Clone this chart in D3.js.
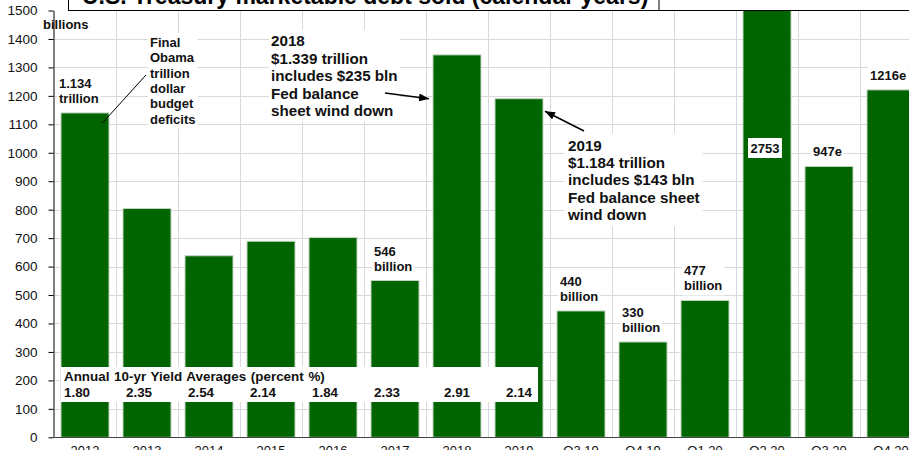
<!DOCTYPE html>
<html>
<head>
<meta charset="utf-8">
<script src="https://cdn.jsdelivr.net/npm/d3@7"></script>
<style>
  body { margin: 0; background: #fff; }
  svg { display: block; font-family: Arial, "Liberation Sans", sans-serif; }
  .bold { font-weight: bold; }
</style>
</head>
<body>
<div id="chart"></div>
<script>
// data (billions of dollars)
var categories = ["2012", "2013", "2014", "2015", "2016", "2017", "2018", "2019",
  "Q3 19", "Q4 19", "Q1 20", "Q2 20", "Q3 20", "Q4 20"];
var debtSold = [1140, 804, 638, 689, 702, 551, 1344, 1190, 444, 335, 481, 2753, 952, 1221];
var yieldYears = ["2012", "2013", "2014", "2015", "2016", "2017", "2018", "2019"];
var yieldAverages = ["1.80", "2.35", "2.54", "2.14", "1.84", "2.33", "2.91", "2.14"];
var yTicks = [0, 100, 200, 300, 400, 500, 600, 700, 800, 900, 1000, 1100, 1200, 1300, 1400, 1500];

var titleText = "U.S. Treasury marketable debt sold (calendar years)";
var yieldTitle = "Annual 10-yr Yield Averages (percent %)";
var obamaNote = ["Final", "Obama", "trillion", "dollar", "budget", "deficits"];
var note2018 = ["2018", "$1.339 trillion", "includes $235 bln", "Fed balance", "sheet wind down"];
var note2019 = ["2019", "$1.184 trillion", "includes $143 bln", "Fed balance sheet", "wind down"];
var barLabels = [
  { cat: "2012", lines: ["1.134", "trillion"] },
  { cat: "2017", lines: ["546", "billion"] },
  { cat: "Q3 19", lines: ["440", "billion"] },
  { cat: "Q4 19", lines: ["330", "billion"] },
  { cat: "Q1 20", lines: ["477", "billion"] },
  { cat: "Q3 20", lines: ["947e"] },
  { cat: "Q4 20", lines: ["1216e"] }
];

var width = 909, height = 450;
var green = "#006400", grid = "#d9d9d9";

var svg = d3.select("#chart").append("svg")
  .attr("width", width)
  .attr("height", height);

var x = d3.scaleBand()
  .domain(categories)
  .range([54, 54 + 62 * categories.length])
  .paddingInner(14 / 62)
  .paddingOuter(7 / 62);

var y = d3.scaleLinear()
  .domain([0, 1500])
  .range([437.3, 10.5]);

var gap = (x.step() - x.bandwidth()) / 2;

// gridlines
svg.append("g").selectAll("line")
  .data(yTicks.filter(function (d) { return d > 0 && d < 1500; }))
  .enter().append("line")
  .attr("x1", 54).attr("x2", width)
  .attr("y1", function (d) { return Math.round(y(d)) + 0.5; })
  .attr("y2", function (d) { return Math.round(y(d)) + 0.5; })
  .style("stroke", grid);

svg.append("g").selectAll("line")
  .data(categories.slice(1))
  .enter().append("line")
  .attr("x1", function (d) { return Math.round(x(d) - gap) + 0.5; })
  .attr("x2", function (d) { return Math.round(x(d) - gap) + 0.5; })
  .attr("y1", y(1500)).attr("y2", y(0))
  .style("stroke", grid);

// bars (clipped at the top of the axis)
svg.append("g").selectAll("rect")
  .data(categories)
  .enter().append("rect")
  .attr("x", function (d) { return x(d); })
  .attr("y", function (d, i) { return y(Math.min(debtSold[i], 1500)); })
  .attr("width", x.bandwidth())
  .attr("height", function (d, i) { return y(0) - y(Math.min(debtSold[i], 1500)); })
  .style("fill", green)
  .style("stroke", "#c4d6c4")
  .style("stroke-width", 1);

// y axis
var yAxis = svg.append("g")
  .attr("transform", "translate(53.5,0)")
  .call(d3.axisLeft(y).tickValues(yTicks).tickFormat(d3.format("d"))
    .tickSize(5).tickSizeOuter(0).tickPadding(11));
yAxis.select(".domain").style("stroke", "#000");
yAxis.selectAll(".tick line").style("stroke", "#000");
yAxis.selectAll("text")
  .style("font-size", "13.5px")
  .style("fill", "#111")
  .attr("font-family", null);

// x axis
svg.append("line")
  .attr("x1", 54).attr("x2", width)
  .attr("y1", 437.5).attr("y2", 437.5)
  .style("stroke", "#444");

svg.append("g").selectAll("text")
  .data(categories)
  .enter().append("text")
  .attr("x", function (d) { return x(d) + x.bandwidth() / 2; })
  .attr("y", 454.5)
  .attr("text-anchor", "middle")
  .style("font-size", "13px")
  .style("fill", "#111")
  .text(function (d) { return d; });

// helper: a multi-line bold text block with a white box behind it
function textBlock(lines, px, py, size, lineH, pad) {
  var g = svg.append("g");
  var bg = g.append("rect").style("fill", "#fff");
  var t = g.append("text")
    .attr("class", "bold")
    .style("font-size", size + "px")
    .style("fill", "#111");
  lines.forEach(function (l, i) {
    t.append("tspan").attr("x", px).attr("y", py + i * lineH).text(l);
  });
  var b = t.node().getBBox();
  bg.attr("x", b.x - pad).attr("y", b.y - pad)
    .attr("width", b.width + 2 * pad).attr("height", b.height + 2 * pad);
  return g;
}

// labels above the bars
barLabels.forEach(function (d) {
  var i = categories.indexOf(d.cat);
  var top = y(debtSold[i]);
  var dx = d.cat === "Q3 20" ? 8 : (d.cat === "2012" ? -2 : 3);
  var n = d.lines.length;
  textBlock(d.lines, x(d.cat) + dx, top - 10 - (n - 1) * 15, 13, 15, 2);
});

// clipped Q2 20 value inside its bar
textBlock(["2753"], x("Q2 20") + 7.5, 152.5, 13, 15, 2.5);

// "billions" unit
svg.append("text")
  .attr("class", "bold")
  .attr("x", 43).attr("y", 28.5)
  .style("font-size", "13px")
  .style("fill", "#111")
  .text("billions");

// annotations
textBlock(obamaNote, 150, 47, 13, 15.3, 2);
textBlock(note2018, 271, 46, 15.2, 17.6, 2);
textBlock(note2019, 568, 150.5, 15.2, 17.4, 3);

svg.append("defs").append("marker")
  .attr("id", "arrow")
  .attr("viewBox", "0 0 10 8")
  .attr("refX", 10).attr("refY", 4)
  .attr("markerUnits", "userSpaceOnUse")
  .attr("markerWidth", 10).attr("markerHeight", 8)
  .attr("orient", "auto")
  .append("path")
  .attr("d", "M0,0L10,4L0,8z")
  .style("fill", "#000");

svg.append("line")
  .attr("x1", 146).attr("y1", 75)
  .attr("x2", x("2012") + 41).attr("y2", y(1103))
  .style("stroke", "#000").style("stroke-width", 1);

svg.append("line")
  .attr("x1", 385).attr("y1", 93)
  .attr("x2", x("2018") - 4).attr("y2", y(1190))
  .style("stroke", "#000").style("stroke-width", 1.5)
  .attr("marker-end", "url(#arrow)");

svg.append("line")
  .attr("x1", 584).attr("y1", 131)
  .attr("x2", x("2019") + x.bandwidth() + 2).attr("y2", y(1146))
  .style("stroke", "#000").style("stroke-width", 1.5)
  .attr("marker-end", "url(#arrow)");

// yield averages box
var yb = svg.append("g");
yb.append("rect")
  .attr("x", x("2012"))
  .attr("y", 367)
  .attr("width", x("2019") + 43 - x("2012"))
  .attr("height", 35)
  .style("fill", "#fff");
yb.append("text")
  .attr("class", "bold")
  .attr("x", x("2012") + 3).attr("y", 381)
  .style("font-size", "13.4px")
  .style("word-spacing", "1px")
  .style("fill", "#111")
  .text(yieldTitle);
yb.selectAll(".yv")
  .data(yieldYears)
  .enter().append("text")
  .attr("class", "bold yv")
  .attr("x", function (d, i) { return x(d) + (i < 6 ? 3 : 11); })
  .attr("y", 397)
  .style("font-size", "13.4px")
  .style("fill", "#111")
  .text(function (d, i) { return yieldAverages[i]; });

// title box, cut by the top edge
svg.append("rect")
  .attr("x", 68.5).attr("y", -2)
  .attr("width", 659 - 68.5).attr("height", 12.5)
  .style("fill", "#fff")
  .style("stroke", "#000");
svg.append("line")
  .attr("x1", 659).attr("x2", width)
  .attr("y1", 10.5).attr("y2", 10.5)
  .style("stroke", "#000");
svg.append("text")
  .attr("class", "bold")
  .attr("x", 82).attr("y", 4)
  .style("font-size", "23px")
  .style("fill", "#000")
  .text(titleText);
</script>
</body>
</html>
